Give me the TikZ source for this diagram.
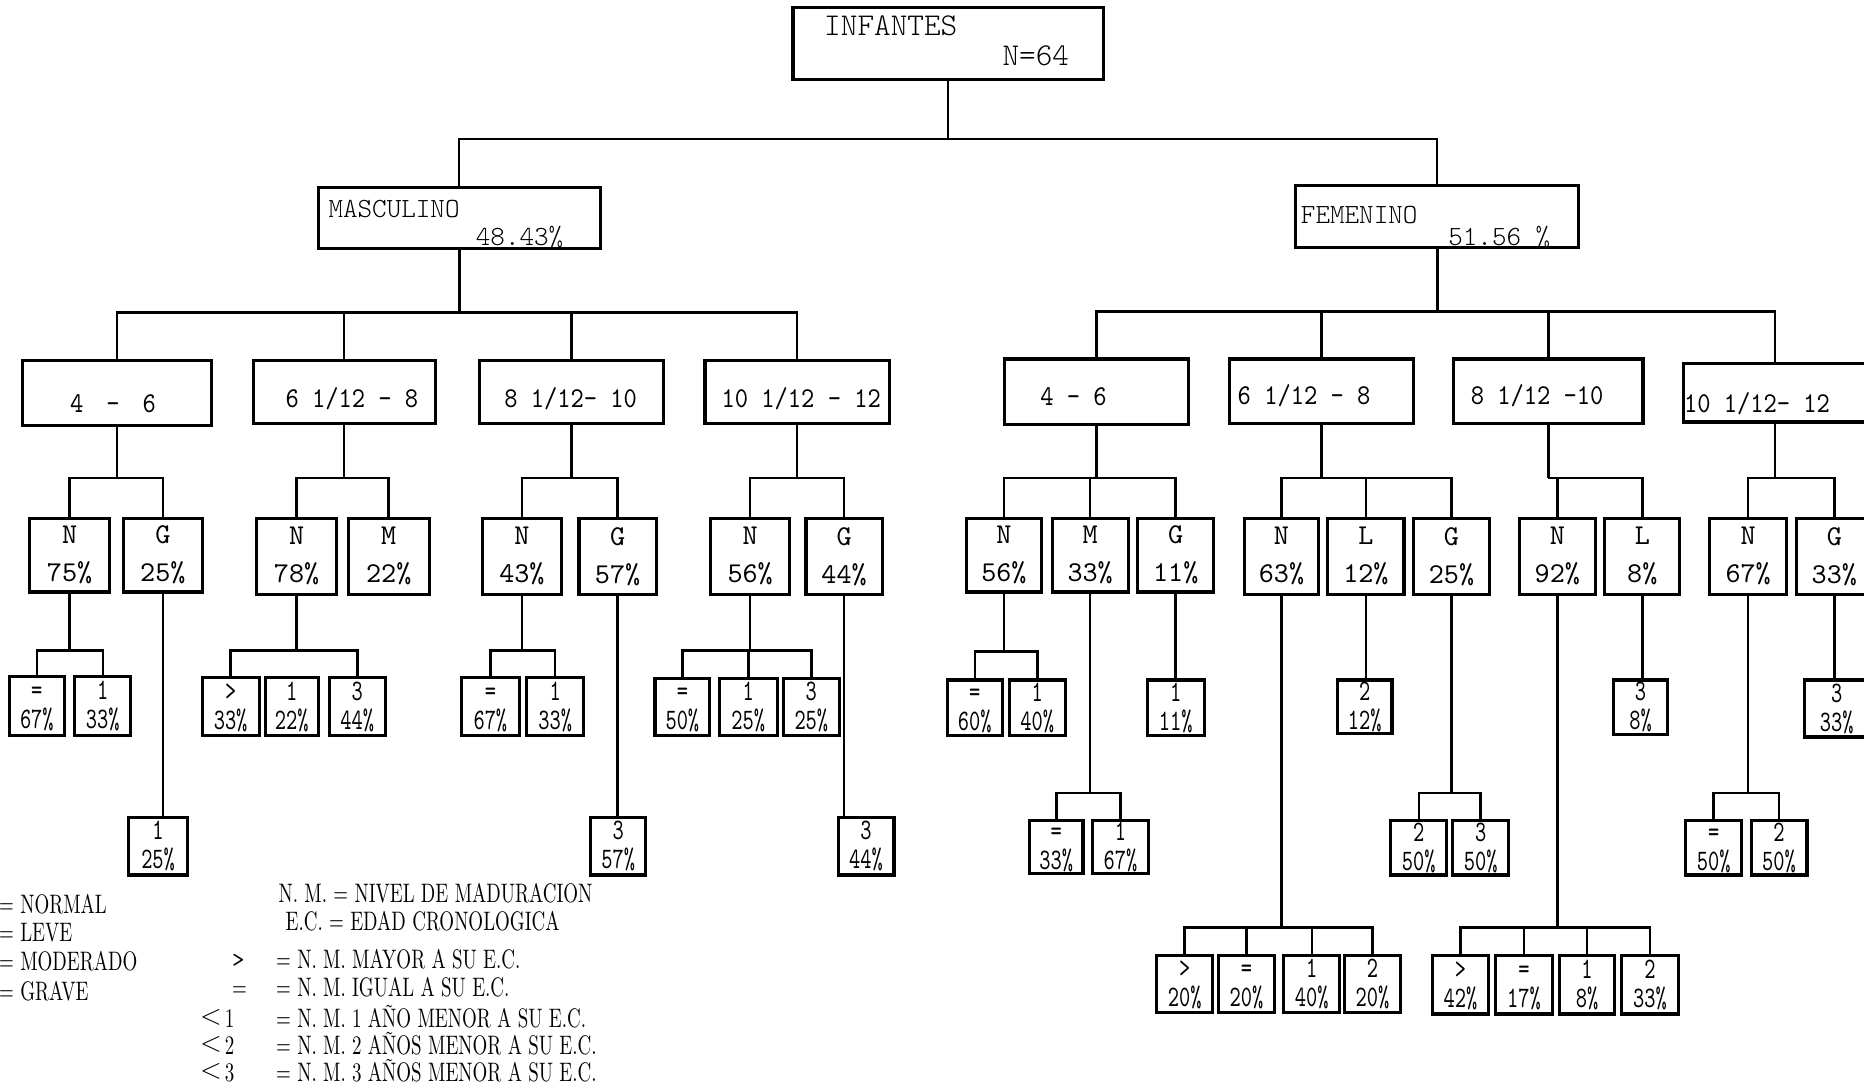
\documentclass[tikz,border=0pt]{standalone}
\usepackage{fontspec}
\newfontfamily\tw{lmmono10-regular.otf}
\newfontfamily\twa{lmmono10-regular.otf}[FakeStretch=0.88]
\newfontfamily\twl{lmmonolt10-regular.otf}
\newfontfamily\twc{lmmono10-regular.otf}[FakeStretch=0.72]
\newfontfamily\cond{lmroman10-regular.otf}[FakeStretch=0.71]
\usetikzlibrary{calc}
\newcommand\Bx[7][]{\node[#1,minimum width={(#5-#3)*0.6pt},minimum height={(#6-#4)*0.6pt}] (#2) at ({(#3+#5)/2},{(#4+#6)/2}) {#7};}
\newcommand\Grp[3]{\coordinate (#1j) at (#1.south |- 0,#2);\draw[con] (#1.south) -- (#1j);\foreach \chld in {#3}{\draw[con] (\chld.north) |- (#1j);}}
\newcommand\One[2]{\draw[con] (#1.south) -- (#1.south |- #2.north);}
\newcommand\lv[2]{\vphantom{1}#1\\#2}
\newcommand\ltsym[1]{\raisebox{1.5pt}{\fontsize{14.5}{14.5}\selectfont$<$}\hspace{1.5pt}#1}
\tikzset{
 bx/.style={draw,line width=1.6pt,inner sep=0pt,align=center},
 cat/.style={bx,font=\tw\fontsize{14.5}{19.2}\selectfont},
 leaf/.style={bx,font=\twc\fontsize{15}{14.6}\selectfont},
 con/.style={line width=1.3pt},
 thincon/.style={line width=1pt},
 txt/.style={inner sep=0pt,anchor=west},
 toptxt/.style={txt,font=\twl\fontsize{14}{16}\selectfont},
 agetxt/.style={inner sep=0pt,font=\twa\fontsize{14.5}{16}\selectfont},
 leg/.style={inner sep=0pt,anchor=base west,font=\cond\fontsize{13.5}{15}\selectfont},
}
\begin{document}
\begin{tikzpicture}[x=0.6pt,y=-0.6pt]
\useasboundingbox[fill=white] (0,0) rectangle (1568,914);
% top levels
\Bx[bx]{inf}{667}{6}{928}{67}{}
\node[toptxt,font=\twl\fontsize{16}{18}\selectfont] (tinf) at (693,22) {INFANTES};
\node[toptxt,font=\twl\fontsize{16}{18}\selectfont] (tn) at (843,47) {N=64};
\Bx[bx]{masc}{268}{158}{505}{209}{}
\node[toptxt] (tmasc) at (276,176) {MASCULINO};
\node[toptxt] (tmp) at (400,199) {48.43\%};
\Bx[bx]{fem}{1090}{156}{1328}{208}{}
\node[toptxt] (tfem) at (1094,181) {FEMENINO};
\node[toptxt] (tfp) at (1218,199) {51.56 \%};
\coordinate (infj) at (inf.south |- 0,117);
\draw[thincon] (inf.south) -- (infj);
\draw[thincon] (masc.north) |- (infj);
\draw[thincon] (fem.north) |- (infj);
% age boxes
\Bx[bx]{m1}{19}{303}{178}{358}{}
\Bx[bx]{m2}{213}{303}{366}{356}{}
\Bx[bx]{m3}{403}{303}{558}{356}{}
\Bx[bx]{m4}{593}{303}{748}{356}{}
\Bx[bx]{f1}{845}{302}{1000}{357}{}
\Bx[bx]{f2}{1034}{302}{1189}{356}{}
\Bx[bx]{f3}{1223}{302}{1382}{356}{}
\Bx[bx]{f4}{1416}{306}{1570}{355}{}
\node[agetxt] (tm1) at (95,340) {4\hspace{0.8em}-\hspace{0.8em}6};
\node[agetxt] (tm2) at (296,335) {6 1/12 - 8};
\node[agetxt] (tm3) at (480,335) {8 1/12- 10};
\node[agetxt] (tm4) at (674,335) {10 1/12 - 12};
\node[agetxt] (tf1) at (903,334) {4 - 6};
\node[agetxt] (tf2) at (1097,333) {6 1/12 - 8};
\node[agetxt] (tf3) at (1293,333) {8 1/12 -10};
\node[agetxt] (tf4) at (1478,340) {10 1/12- 12};
\Grp{masc}{263}{m1,m2,m3,m4}
\Grp{fem}{262}{f1,f2,f3,f4}
% category boxes
\Bx[cat]{m1n}{25}{436}{92}{498}{N\\75\%}
\Bx[cat]{m1g}{104}{436}{170}{498}{G\\25\%}
\Bx[cat]{m2n}{216}{436}{283}{500}{N\\78\%}
\Bx[cat]{m2m}{293}{436}{361}{500}{M\\22\%}
\Bx[cat]{m3n}{406}{436}{472}{500}{N\\43\%}
\Bx[cat]{m3g}{487}{436}{552}{500}{G\\57\%}
\Bx[cat]{m4n}{598}{436}{664}{500}{N\\56\%}
\Bx[cat]{m4g}{678}{436}{742}{500}{G\\44\%}
\Bx[cat]{f1n}{813}{436}{876}{498}{N\\56\%}
\Bx[cat]{f1m}{885}{436}{949}{498}{M\\33\%}
\Bx[cat]{f1g}{957}{436}{1021}{498}{G\\11\%}
\Bx[cat]{f2n}{1047}{436}{1109}{500}{N\\63\%}
\Bx[cat]{f2l}{1117}{436}{1181}{500}{L\\12\%}
\Bx[cat]{f2g}{1189}{436}{1253}{500}{G\\25\%}
\Bx[cat]{f3n}{1278}{436}{1342}{500}{N\\92\%}
\Bx[cat]{f3l}{1350}{436}{1413}{500}{L\\8\%}
\Bx[cat]{f4n}{1438}{436}{1503}{500}{N\\67\%}
\Bx[cat]{f4g}{1511}{436}{1575}{500}{G\\33\%\hspace{0.6em}}
\Grp{m1}{402}{m1n,m1g}
\Grp{m2}{402}{m2n,m2m}
\Grp{m3}{402}{m3n,m3g}
\Grp{m4}{402}{m4n,m4g}
\Grp{f1}{402}{f1n,f1m,f1g}
\Grp{f2}{402}{f2n,f2l,f2g}
\Grp{f3}{402}{f3n,f3l}
\Grp{f4}{402}{f4n,f4g}
% leaf boxes
\Bx[leaf]{l1}{8}{569}{54}{619}{\lv{=}{67\%}}
\Bx[leaf]{l2}{63}{569}{110}{619}{\lv{1}{33\%}}
\Bx[leaf]{l3}{108}{688}{158}{736}{\lv{1}{25\%}}
\Bx[leaf]{l4}{170}{570}{218}{619}{\lv{>}{33\%}}
\Bx[leaf]{l5}{223}{570}{268}{619}{\lv{1}{22\%}}
\Bx[leaf]{l6}{277}{570}{324}{619}{\lv{3}{44\%}}
\Bx[leaf]{l7}{388}{570}{437}{619}{\lv{=}{67\%}}
\Bx[leaf]{l8}{443}{570}{491}{619}{\lv{1}{33\%}}
\Bx[leaf]{l9}{497}{688}{543}{736}{\lv{3}{57\%}}
\Bx[leaf]{l10}{551}{571}{597}{619}{\lv{=}{50\%}}
\Bx[leaf]{l11}{605}{571}{654}{619}{\lv{1}{25\%}}
\Bx[leaf]{l12}{659}{571}{706}{619}{\lv{3}{25\%}}
\Bx[leaf]{l13}{705}{688}{752}{736}{\lv{3}{44\%}}
\Bx[leaf]{l14}{797}{572}{843}{619}{\lv{=}{60\%}}
\Bx[leaf]{l15}{849}{572}{896}{619}{\lv{1}{40\%}}
\Bx[leaf]{l16}{866}{690}{911}{735}{\lv{=}{33\%}}
\Bx[leaf]{l17}{919}{690}{966}{735}{\lv{1}{67\%}}
\Bx[leaf]{l18}{965}{572}{1013}{619}{\lv{1}{11\%}}
\Bx[leaf]{l19}{973}{804}{1020}{852}{\lv{>}{20\%}}
\Bx[leaf]{l20}{1025}{804}{1072}{852}{\lv{=}{20\%}}
\Bx[leaf]{l21}{1080}{804}{1127}{852}{\lv{1}{40\%}}
\Bx[leaf]{l22}{1131}{804}{1178}{852}{\lv{2}{20\%}}
\Bx[leaf]{l23}{1125}{572}{1171}{617}{\lv{2}{12\%}}
\Bx[leaf]{l24}{1170}{690}{1217}{736}{\lv{2}{50\%}}
\Bx[leaf]{l25}{1222}{690}{1269}{736}{\lv{3}{50\%}}
\Bx[leaf]{l26}{1205}{804}{1252}{853}{\lv{>}{42\%}}
\Bx[leaf]{l27}{1258}{804}{1306}{853}{\lv{=}{17\%}}
\Bx[leaf]{l28}{1312}{804}{1358}{853}{\lv{1}{8\%}}
\Bx[leaf]{l29}{1364}{804}{1412}{853}{\lv{2}{33\%}}
\Bx[leaf]{l30}{1357}{572}{1403}{618}{\lv{3}{8\%}}
\Bx[leaf]{l31}{1418}{690}{1465}{736}{\lv{=}{50\%}}
\Bx[leaf]{l32}{1473}{690}{1520}{736}{\lv{2}{50\%}}
\Bx[leaf]{l33}{1518}{572}{1572}{620}{\lv{3}{33\%}}
\Grp{m1n}{547}{l1,l2}
\One{m1g}{l3}
\Grp{m2n}{547}{l4,l6}
\Grp{m3n}{547}{l7,l8}
\One{m3g}{l9}
\Grp{m4n}{547}{l10,l11,l12}
\One{m4g}{l13}
\Grp{f1n}{548}{l14,l15}
\Grp{f1m}{667}{l16,l17}
\One{f1g}{l18}
\Grp{f2n}{780}{l19,l20,l21,l22}
\One{f2l}{l23}
\Grp{f2g}{667}{l24,l25}
\Grp{f3n}{780}{l26,l27,l28,l29}
\One{f3l}{l30}
\Grp{f4n}{667}{l31,l32}
\One{f4g}{l33}
% legend
\node[leg] (g1) at (-1,768) {= NORMAL};
\node[leg] (g2) at (-1,792) {= LEVE};
\node[leg] (g3) at (-1,816) {= MODERADO};
\node[leg] (g4) at (-1,842) {= GRAVE};
\node[leg] (h1) at (234,759) {N. M. = NIVEL DE MADURACION};
\node[leg] (h2) at (240,783) {E.C. = EDAD CRONOLOGICA};
\node[leg,font=\tw\fontsize{12}{12}\selectfont] (s1) at (195,814) {>};
\node[leg] (h3) at (232,815) {= N. M. MAYOR A SU E.C.};
\node[leg] (s2) at (195,838) {=};
\node[leg] (h4) at (232,838) {= N. M. IGUAL A SU E.C.};
\node[leg] (s3) at (168,864) {\ltsym{1}};
\node[leg] (h5) at (232,864) {= N. M. 1 AÑO MENOR A SU E.C.};
\node[leg] (s4) at (168,887) {\ltsym{2}};
\node[leg] (h6) at (232,887) {= N. M. 2 AÑOS MENOR A SU E.C.};
\node[leg] (s5) at (168,910) {\ltsym{3}};
\node[leg] (h7) at (232,910) {= N. M. 3 AÑOS MENOR A SU E.C.};
\end{tikzpicture}
\end{document}
